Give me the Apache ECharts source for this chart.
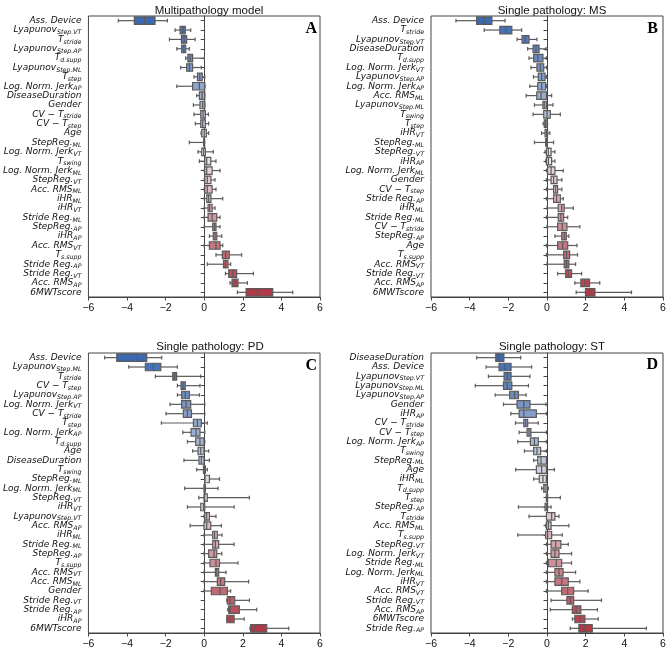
<!DOCTYPE html>
<html>
<head>
<meta charset="utf-8">
<script src="https://cdn.jsdelivr.net/npm/echarts@6/dist/echarts.min.js"></script>
<style>
html,body{margin:0;padding:0;background:#fff;}
#chart{width:669px;height:653px;}
</style>
</head>
<body>
<div id="chart"></div>
<script>
// Category labels ("_" marks the start of a subscript)
const catsA = ["Ass. Device","Lyapunov_Step.VT","T_stride","Lyapunov_Step.AP","T_d.supp","Lyapunov_Step.ML","T_step","Log. Norm. Jerk_AP","DiseaseDuration","Gender","CV − T_stride","CV − T_step","Age","StepReg._ML","Log. Norm. Jerk_VT","T_swing","Log. Norm. Jerk_ML","StepReg._VT","Acc. RMS_ML","iHR_ML","iHR_VT","Stride Reg._ML","StepReg._AP","iHR_AP","Acc. RMS_VT","T_s.supp","Stride Reg._AP","Stride Reg._VT","Acc. RMS_AP","6MWTscore"];
// [lower whisker, Q1, median, Q3, upper whisker]
const valsA = [[-4.45,-3.62,-3.10,-2.55,-1.91],[-1.51,-1.25,-1.11,-0.98,-0.70],[-1.80,-1.18,-1.04,-0.91,-0.47],[-1.42,-1.17,-1.06,-0.96,-0.77],[-0.96,-0.85,-0.73,-0.60,0.01],[-1.22,-0.91,-0.77,-0.60,-0.15],[-0.53,-0.35,-0.23,-0.10,0.03],[-1.42,-0.60,-0.25,0.03,0.04],[-0.39,-0.25,-0.11,0.03,0.03],[-0.56,-0.22,-0.08,0.03,0.03],[-0.53,-0.18,-0.06,0.06,0.22],[-0.46,-0.18,-0.08,0.06,0.23],[-0.16,-0.13,0.00,0.11,0.23],[-0.77,-0.03,0.0,0.02,0.02],[-0.32,-0.13,-0.03,0.06,0.47],[-0.25,0.03,0.13,0.34,0.61],[0.0,0.03,0.13,0.41,0.82],[0.0,0.03,0.16,0.35,0.56],[0.0,0.03,0.16,0.41,0.61],[0.0,0.13,0.23,0.35,0.96],[0.0,0.20,0.28,0.41,0.56],[0.0,0.20,0.41,0.65,0.82],[0.0,0.44,0.53,0.61,0.82],[0.27,0.47,0.56,0.65,0.91],[0.0,0.27,0.61,0.82,0.96],[0.61,0.94,1.11,1.30,1.94],[0.16,1.00,1.10,1.23,1.37],[1.10,1.27,1.48,1.68,2.55],[1.34,1.44,1.60,1.75,2.24],[1.72,2.17,2.79,3.55,4.59]];

const catsB = ["Ass. Device","T_stride","Lyapunov_Step.VT","DiseaseDuration","T_d.supp","Log. Norm. Jerk_VT","Lyapunov_Step.AP","Log. Norm. Jerk_AP","Acc. RMS_ML","Lyapunov_Step.ML","T_swing","T_step","iHR_VT","StepReg._ML","StepReg._VT","iHR_AP","Log. Norm. Jerk_ML","Gender","CV − T_step","Stride Reg._AP","iHR_ML","Stride Reg._ML","CV − T_stride","StepReg._AP","Age","T_s.supp","Acc. RMS_VT","Stride Reg._VT","Acc. RMS_AP","6MWTscore"];
const valsB = [[-4.71,-3.64,-3.25,-2.85,-2.17],[-3.25,-2.44,-2.13,-1.82,-1.31],[-1.55,-1.29,-1.13,-0.93,-0.52],[-1.00,-0.72,-0.57,-0.41,-0.05],[-0.93,-0.69,-0.48,-0.21,-0.03],[-0.83,-0.52,-0.34,-0.17,-0.03],[-0.70,-0.45,-0.28,-0.10,-0.03],[-0.89,-0.48,-0.28,-0.07,-0.03],[-1.08,-0.53,-0.31,-0.03,0.24],[-0.65,-0.21,-0.14,-0.03,0.31],[-0.72,-0.17,0.0,0.17,0.69],[-0.20,-0.14,-0.07,0.0,0.03],[-0.28,-0.10,-0.03,0.03,0.15],[-0.65,-0.07,-0.03,0.02,0.34],[-0.10,-0.03,0.07,0.21,0.41],[-0.07,-0.03,0.07,0.24,0.41],[-0.03,0.03,0.21,0.41,0.84],[-0.03,0.21,0.34,0.52,0.77],[-0.03,0.34,0.45,0.55,0.77],[-0.03,0.34,0.50,0.69,0.84],[0.0,0.58,0.76,0.89,1.36],[-0.03,0.58,0.72,0.86,1.07],[0.0,0.55,0.79,1.03,1.70],[0.41,0.76,0.89,1.00,1.13],[-0.03,0.55,0.81,1.07,1.55],[-0.03,0.86,1.01,1.17,1.58],[0.0,0.89,1.01,1.13,1.48],[0.55,0.96,1.10,1.27,1.79],[1.44,1.75,1.96,2.20,2.73],[1.51,1.99,2.20,2.48,4.37]];

const catsC = ["Ass. Device","Lyapunov_Step.ML","T_stride","CV − T_step","Lyapunov_Step.AP","Log. Norm. Jerk_VT","CV − T_stride","T_step","Log. Norm. Jerk_AP","T_d.supp","Age","DiseaseDuration","T_swing","StepReg._ML","Log. Norm. Jerk_ML","StepReg._VT","iHR_VT","Lyapunov_Step.VT","Acc. RMS_AP","iHR_ML","Stride Reg._ML","StepReg._AP","T_s.supp","Acc. RMS_VT","Acc. RMS_ML","Gender","Stride Reg._VT","Stride Reg._AP","iHR_AP","6MWTscore"];
const valsC = [[-5.16,-4.53,-3.46,-2.98,-2.20],[-3.91,-3.05,-2.63,-2.25,-1.39],[-2.53,-1.63,-1.53,-1.43,-0.18],[-1.39,-1.20,-1.10,-0.98,-0.22],[-1.39,-1.17,-0.98,-0.77,-0.25],[-1.77,-1.17,-0.94,-0.70,0.03],[-1.98,-1.08,-0.87,-0.66,0.03],[-2.22,-0.56,-0.35,-0.15,0.16],[-1.11,-0.68,-0.42,-0.22,0.03],[-0.87,-0.44,-0.22,-0.01,0.03],[-0.60,-0.32,-0.18,-0.01,0.23],[-1.05,-0.27,-0.15,-0.01,0.27],[-0.39,-0.04,0.01,0.06,0.16],[0.03,0.03,0.03,0.27,0.79],[-1.01,-0.01,0.03,0.06,0.72],[-0.28,-0.01,0.03,0.16,2.34],[-0.87,-0.18,-0.04,0.03,1.55],[-0.01,0.03,0.13,0.27,0.61],[-0.73,-0.01,0.13,0.34,0.89],[-0.01,0.44,0.54,0.68,0.92],[-0.01,0.44,0.58,0.75,1.55],[-0.01,0.23,0.51,0.65,0.91],[-0.01,0.30,0.61,0.79,1.75],[-0.01,0.58,0.65,0.75,1.13],[-0.01,0.68,0.85,1.06,2.30],[-0.01,0.37,0.82,1.20,1.37],[1.17,1.20,1.34,1.58,2.34],[1.22,1.27,1.34,1.82,2.72],[1.17,1.17,1.34,1.55,2.07],[2.37,2.41,2.58,3.24,4.38]];

const catsD = ["DiseaseDuration","Ass. Device","Lyapunov_Step.VT","Lyapunov_Step.ML","Lyapunov_Step.AP","Gender","iHR_AP","CV − T_stride","CV − T_step","Log. Norm. Jerk_AP","T_swing","StepReg._ML","Age","iHR_ML","T_d.supp","T_step","StepReg._AP","T_stride","Acc. RMS_ML","T_s.supp","StepReg._VT","Log. Norm. Jerk_VT","Stride Reg._ML","Log. Norm. Jerk_ML","iHR_VT","Acc. RMS_VT","Stride Reg._VT","Acc. RMS_AP","6MWTscore","Stride Reg._AP"];
const valsD = [[-3.64,-2.65,-2.48,-2.23,-1.36],[-3.15,-2.48,-2.17,-1.86,-0.79],[-3.03,-2.22,-2.05,-1.86,-0.88],[-3.71,-2.25,-2.06,-1.82,-0.96],[-2.68,-1.93,-1.68,-1.48,-1.08],[-2.25,-1.55,-1.20,-0.88,-0.05],[-1.87,-1.44,-1.20,-0.55,-0.03],[-1.63,-1.20,-1.10,-1.00,-0.45],[-1.44,-1.03,-0.93,-0.83,-0.03],[-1.51,-0.86,-0.65,-0.45,-0.03],[-1.17,-0.69,-0.52,-0.33,-0.03],[-0.69,-0.48,-0.31,-0.03,-0.03],[-1.62,-0.55,-0.28,-0.03,0.38],[-0.69,-0.40,-0.21,-0.03,-0.03],[-0.28,-0.17,-0.10,0.0,0.07],[-0.03,-0.03,0.0,0.03,0.69],[-1.48,-0.10,-0.03,0.03,0.21],[-0.93,-0.03,0.24,0.41,0.62],[-0.07,-0.03,0.07,0.21,1.13],[-1.51,-0.07,0.03,0.24,0.79],[-0.03,0.21,0.45,0.72,1.10],[-0.03,0.21,0.41,0.62,1.27],[-0.03,0.07,0.48,0.76,1.27],[-0.03,0.41,0.62,0.83,1.48],[-0.03,0.41,0.76,1.10,1.70],[-0.03,0.76,1.07,1.38,2.13],[0.21,1.03,1.20,1.38,2.82],[0.17,1.31,1.51,1.75,2.61],[1.31,1.44,1.70,1.96,2.65],[1.20,1.65,1.96,2.34,5.14]];

const titles = ["Multipathology model","Single pathology: MS","Single pathology: PD","Single pathology: ST"];
const letters = ["A","B","C","D"];
const xTicks = [-6,-4,-2,0,2,4,6];

const chart = echarts.init(document.getElementById('chart'), null, {renderer:'canvas'});

const stops = [[0,[59,106,178]],[0.5,[236,231,233]],[1,[178,58,72]]];
function colorAt(t){
  for (let k=0;k<stops.length-1;k++){
    const a=stops[k], b=stops[k+1];
    if (t<=b[0]){
      const u=(t-a[0])/(b[0]-a[0]);
      const c=a[1].map((v,j)=>Math.round(v+(b[1][j]-v)*u));
      return 'rgb('+c.join(',')+')';
    }
  }
  return 'rgb('+stops[stops.length-1][1].join(',')+')';
}
function fmtLabel(s){
  const i=s.indexOf('_');
  if(i<0) return '{b|'+s+'}';
  return '{b|'+s.slice(0,i)+'}{s|'+s.slice(i+1)+'}';
}

const grids = [
  {left:88, top:16, width:232, height:281},
  {left:431, top:16, width:232, height:281},
  {left:88, top:353, width:232, height:280},
  {left:431, top:353, width:232, height:280}
];
const catsAll=[catsA,catsB,catsC,catsD];
const valsAll=[valsA,valsB,valsC,valsD];
const edge='#5a5a5a';

function renderBox(params, api){
  const i=api.value(0);
  const n=30;
  const lo=api.coord([api.value(1),i])[0];
  const q1=api.coord([api.value(2),i])[0];
  const md=api.coord([api.value(3),i])[0];
  const q3=api.coord([api.value(4),i])[0];
  const hi=api.coord([api.value(5),i])[0];
  const yc=api.coord([0,i])[1];
  const band=api.size([0,1])[1];
  const h=band*0.8, cap=h*0.5;
  const fill=colorAt(i/(n-1));
  const ls={stroke:edge,lineWidth:1.2};
  return {type:'group',children:[
    {type:'line',shape:{x1:lo,y1:yc,x2:q1,y2:yc},style:ls},
    {type:'line',shape:{x1:q3,y1:yc,x2:hi,y2:yc},style:ls},
    {type:'line',shape:{x1:lo,y1:yc-cap/2,x2:lo,y2:yc+cap/2},style:ls},
    {type:'line',shape:{x1:hi,y1:yc-cap/2,x2:hi,y2:yc+cap/2},style:ls},
    {type:'rect',shape:{x:q1,y:yc-h/2,width:Math.max(q3-q1,0.5),height:h},style:{fill:fill,stroke:edge,lineWidth:1.2}},
    {type:'line',shape:{x1:md,y1:yc-h/2,x2:md,y2:yc+h/2},style:ls}
  ]};
}

const option = {
  animation:false,
  backgroundColor:'#fff',
  grid: grids.map(g=>Object.assign({show:true,borderColor:'#444',borderWidth:1,backgroundColor:'transparent',containLabel:false},g)),
  title: titles.map((t,k)=>({
    text:t, left:[204,547,205,547][k], top:[0,0,336,336][k], textAlign:'center',
    textStyle:{fontFamily:'Liberation Sans',fontSize:11.5,fontWeight:'normal',color:'#111'}
  })),
  xAxis: grids.map((g,k)=>({
    type:'value', gridIndex:k, min:xTicks[0], max:xTicks[xTicks.length-1], interval:2,
    splitLine:{show:false},
    axisLine:{show:true,lineStyle:{color:'#444'}},
    axisTick:{show:true,length:3.5,lineStyle:{color:'#444'}},
    axisLabel:{fontFamily:'Liberation Sans',fontSize:10.5,color:'#111',margin:6,
      formatter:v=>(v<0?'−'+Math.abs(v):String(v))}
  })),
  yAxis: grids.map((g,k)=>({
    type:'category', gridIndex:k, inverse:true, data:catsAll[k],
    axisLine:{show:true,lineStyle:{color:'#444'}},
    axisTick:{show:true,length:3.5,alignWithLabel:true,lineStyle:{color:'#444'}},
    splitLine:{show:false},
    axisLabel:{interval:0,margin:7,formatter:fmtLabel,
      rich:{
        b:{fontFamily:'DejaVu Sans',fontStyle:'italic',fontSize:9,color:'#111',lineHeight:11},
        s:{fontFamily:'DejaVu Sans',fontStyle:'italic',fontSize:6.3,color:'#111',lineHeight:7,verticalAlign:'bottom'}
      }}
  })),
  graphic: letters.map((L,k)=>({
    type:'text', right:[352,11,352,11][k], top:[21,21,358,357][k],
    style:{text:L,font:'bold 16px "Liberation Serif"',fill:'#000'}
  })),
  series: valsAll.map((vals,k)=>({
    type:'custom', xAxisIndex:k, yAxisIndex:k,
    renderItem:renderBox,
    encode:{x:[1,2,3,4,5],y:0},
    data: vals.map((v,i)=>[i].concat(v))
  }))
};
chart.setOption(option);
</script>
</body>
</html>
